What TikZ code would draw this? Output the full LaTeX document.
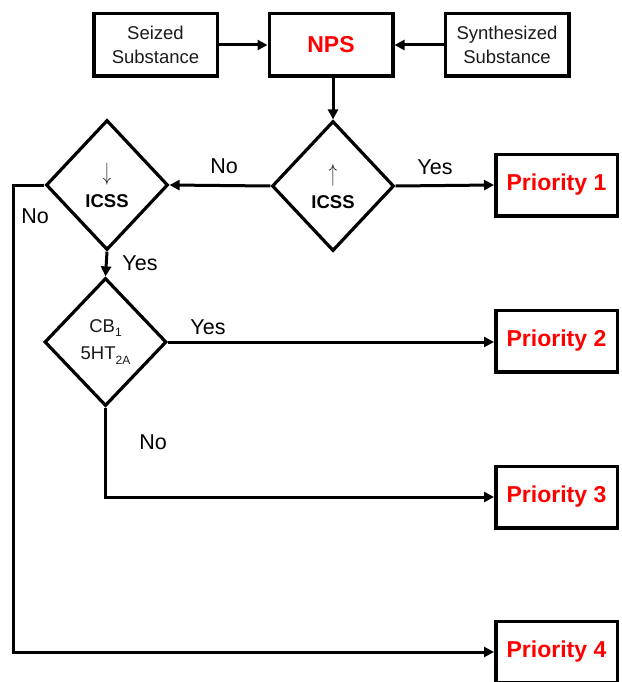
\documentclass[tikz,border=0pt]{standalone}
\usepackage{fontspec}
\setmainfont{Liberation Sans}
\usetikzlibrary{shapes.geometric,arrows.meta}
\definecolor{txtgray}{HTML}{1A1A1A}
\definecolor{arrgray}{HTML}{202020}
\newcommand{\tallarrow}[1]{\textcolor{arrgray}{\scalebox{0.95}[1.45]{$#1$}}}
\begin{document}
\begin{tikzpicture}[x=1pt,y=-1pt,
  srcbox/.style={draw,line width=3.5pt,minimum width=123.5pt,minimum height=62.5pt,inner sep=0pt,align=center,
    font=\fontsize{18.5}{24}\selectfont,text=txtgray},
  prio/.style={draw,line width=3.5pt,minimum width=121.5pt,minimum height=61.5pt,inner sep=0pt,
    font=\bfseries\fontsize{23}{28}\selectfont,text=red},
  dec/.style={draw,diamond,line width=3.2pt,inner sep=0pt,align=center,minimum width=122pt,minimum height=130pt,
    font=\fontsize{18.5}{27}\selectfont},
  conn/.style={line width=3pt,-{Triangle[length=10pt,width=10pt]}},
  lbl/.style={font=\fontsize{21.5}{26}\selectfont,inner sep=0pt}]
\useasboundingbox (0,0) rectangle (621,682);

\node[srcbox] (seized) at (155.5,45) {Seized\\Substance};
\node[srcbox,font=\bfseries\fontsize{23}{28}\selectfont,text=red] (nps) at (331,45) {NPS};
\node[srcbox] (synth) at (507,45) {Synthesized\\Substance};

\node[dec] (d1) at (333,186) {\tallarrow{\uparrow}\\\textbf{ICSS}};
\node[dec] (d2) at (107,185) {\tallarrow{\downarrow}\\\textbf{ICSS}};
\node[dec,minimum height=128pt,text=txtgray] (d3) at (105.5,342) {CB\raisebox{-0.35ex}{\fontsize{12}{12}\selectfont 1}\\5HT\raisebox{-0.45ex}{\fontsize{12}{12}\selectfont 2A}};

\node[prio] (p1) at (556.5,185) {Priority 1};
\node[prio] (p2) at (556.5,341) {Priority 2};
\node[prio] (p3) at (556.5,497) {Priority 3};
\node[prio] (p4) at (556.5,652) {Priority 4};

\coordinate (c4a) at (13,185);
\coordinate (c4b) at (13,652);
\coordinate (c3) at (105.5,497);

\draw[conn] (seized.east) -- (nps.west);
\draw[conn] (synth.west) -- (nps.east);
\draw[conn] (nps.south -| d1.north) -- (d1.north);
\draw[conn] (d1.west) -- (d2.east);
\draw[conn] (d1.east) -- (p1.west);
\draw[conn] (d2.south) -- (d3.north);
\draw[conn] (d3.east) -- (d3.east -| p2.west);
\draw[conn] (d3.south) -- (c3) -- (p3.west);
\draw[conn] (d2.west) -- (c4a) -- (c4b) -- (p4.west);

\node[lbl] (l1) at (224,166) {No};
\node[lbl] (l2) at (435,167) {Yes};
\node[lbl] (l3) at (35,216) {No};
\node[lbl] (l4) at (140,263) {Yes};
\node[lbl] (l5) at (208,327) {Yes};
\node[lbl] (l6) at (153,442) {No};
\end{tikzpicture}
\end{document}
